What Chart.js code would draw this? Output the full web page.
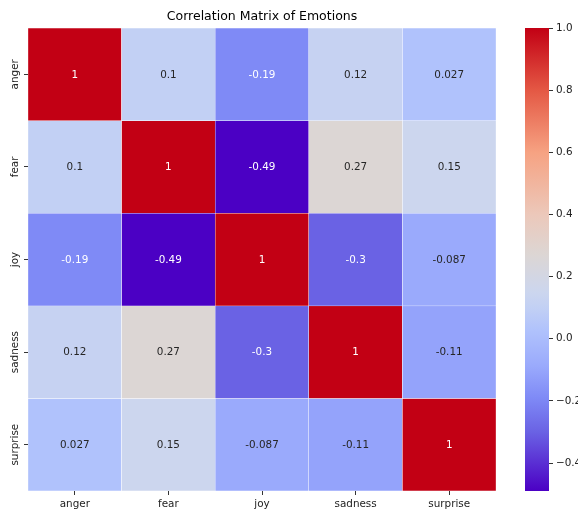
<!DOCTYPE html>
<html>
<head>
<meta charset="utf-8">
<script src="https://cdn.jsdelivr.net/npm/chart.js@4/dist/chart.umd.min.js"></script>
<style>
  body { margin: 0; background: #fff; }
  #wrap { position: relative; width: 578px; height: 511px; overflow: hidden; }
  canvas { position: absolute; top: 0; }
</style>
</head>
<body>
<div id="wrap">
  <canvas id="heat" width="578" height="511" style="left:0"></canvas>
  <canvas id="cbar" width="78" height="511" style="left:500px"></canvas>
</div>
<script>
// categories and correlation rows
var emotions = ['anger', 'fear', 'joy', 'sadness', 'surprise'];
var angerCorr = [1, 0.1, -0.19, 0.12, 0.027];
var fearCorr = [0.1, 1, -0.49, 0.27, 0.15];
var joyCorr = [-0.19, -0.49, 1, -0.3, -0.087];
var sadnessCorr = [0.12, 0.27, -0.3, 1, -0.11];
var surpriseCorr = [0.027, 0.15, -0.087, -0.11, 1];
var colorbarTicks = [-0.4, -0.2, 0, 0.2, 0.4, 0.6, 0.8, 1.0];

var rows = [angerCorr, fearCorr, joyCorr, sadnessCorr, surpriseCorr];
var allVals = [].concat.apply([], rows);
var vmin = Math.min.apply(null, allVals);
var vmax = Math.max.apply(null, allVals);

var FONT = 'DejaVu Sans';

// colour ramp as seen in the picture (value -> rgb)
var cmapStops = [
    [-0.49, [75, 0, 196]],
    [-0.3, [106, 98, 228]],
    [-0.19, [127, 138, 246]],
    [-0.087, [154, 170, 252]],
    [0.027, [176, 194, 252]],
    [0.1, [194, 208, 244]],
    [0.15, [204, 214, 238]],
    [0.27, [220, 214, 212]],
    [0.4, [236, 200, 186]],
    [0.6, [246, 162, 130]],
    [0.8, [228, 88, 68]],
    [1.0, [194, 0, 20]]
];

function cmap(v) {
    if (v <= cmapStops[0][0]) {
        return 'rgb(' + cmapStops[0][1].join(',') + ')';
    }
    for (var i = 1; i < cmapStops.length; i++) {
        var a = cmapStops[i - 1], b = cmapStops[i];
        if (v <= b[0]) {
            var t = (v - a[0]) / (b[0] - a[0]);
            var c = a[1].map(function (x, k) { return Math.round(x + (b[1][k] - x) * t); });
            return 'rgb(' + c.join(',') + ')';
        }
    }
    return 'rgb(' + cmapStops[cmapStops.length - 1][1].join(',') + ')';
}

function textColor(v) {
    return (v <= -0.15 || v >= 0.75) ? '#ffffff' : '#262626';
}

var cellLabels = {
    id: 'cellLabels',
    afterDatasetsDraw: function (chart) {
        var ctx = chart.ctx;
        ctx.save();
        ctx.font = '10.4px "' + FONT + '"';
        ctx.textAlign = 'center';
        ctx.textBaseline = 'middle';
        chart.data.datasets.forEach(function (ds, di) {
            chart.getDatasetMeta(di).data.forEach(function (bar, j) {
                var v = ds.corr[j];
                ctx.fillStyle = textColor(v);
                ctx.fillText(String(v), bar.x, (bar.y + bar.base) / 2 + 0.5);
            });
        });
        ctx.restore();
    },
    afterDraw: function (chart) {
        // rotated row names on the left
        var ctx = chart.ctx;
        var ys = chart.scales.y;
        ctx.save();
        ctx.font = '10.4px "' + FONT + '"';
        ctx.fillStyle = '#222';
        ctx.textAlign = 'center';
        ctx.textBaseline = 'alphabetic';
        emotions.forEach(function (name, i) {
            ctx.save();
            ctx.translate(17.5, ys.getPixelForValue(i + 0.5));
            ctx.rotate(-Math.PI / 2);
            ctx.fillText(name, 0, 0);
            ctx.restore();
        });
        ctx.restore();
    }
};

new Chart(document.getElementById('heat'), {
    type: 'bar',
    data: {
        labels: emotions,
        datasets: rows.map(function (row, r) {
            return {
                label: emotions[r],
                data: row.map(function () { return 1; }),
                corr: row,
                backgroundColor: row.map(cmap),
                borderColor: '#ffffff',
                borderWidth: 0.5,
                borderSkipped: false,
                barPercentage: 1,
                categoryPercentage: 1
            };
        })
    },
    options: {
        responsive: false,
        animation: false,
        layout: { padding: { left: 0, right: 82, top: 0, bottom: 0 } },
        plugins: {
            legend: { display: false },
            tooltip: { enabled: false },
            title: {
                display: true,
                text: 'Correlation Matrix of Emotions',
                fullSize: false,
                color: '#000',
                font: { family: FONT, size: 12.5, weight: 'normal' },
                padding: { top: 9, bottom: 4 }
            }
        },
        scales: {
            x: {
                stacked: true,
                border: { display: false },
                grid: { offset: false, drawOnChartArea: false, tickLength: 4, color: '#000', lineWidth: 0.8 },
                ticks: { color: '#222', font: { family: FONT, size: 10.4 }, padding: 3, maxRotation: 0 },
                afterFit: function (s) { s.height = 20; }
            },
            y: {
                stacked: true,
                reverse: true,
                min: 0,
                max: 5,
                border: { display: false },
                afterBuildTicks: function (s) {
                    s.ticks = emotions.map(function (e, i) { return { value: i + 0.5 }; });
                },
                ticks: { display: false },
                grid: { drawOnChartArea: false, tickLength: 4, color: '#000', lineWidth: 0.8 },
                afterFit: function (s) { s.width = 28; }
            }
        }
    },
    plugins: [cellLabels]
});

// colour bar
new Chart(document.getElementById('cbar'), {
    type: 'bar',
    data: {
        labels: [''],
        datasets: [{
            data: [[vmin, vmax]],
            borderWidth: 0,
            barPercentage: 1,
            categoryPercentage: 1,
            backgroundColor: function (c) {
                var chart = c.chart;
                var ys = chart.scales.y;
                if (!chart.chartArea || !ys) {
                    return null;
                }
                var y0 = ys.getPixelForValue(vmin), y1 = ys.getPixelForValue(vmax);
                var g = chart.ctx.createLinearGradient(0, y0, 0, y1);
                cmapStops.forEach(function (s) {
                    var t = (s[0] - vmin) / (vmax - vmin);
                    g.addColorStop(Math.min(1, Math.max(0, t)), 'rgb(' + s[1].join(',') + ')');
                });
                return g;
            }
        }]
    },
    options: {
        responsive: false,
        animation: false,
        layout: { padding: { left: 25, right: 0, top: 28, bottom: 20 } },
        plugins: { legend: { display: false }, tooltip: { enabled: false } },
        scales: {
            x: { display: false },
            y: {
                position: 'right',
                min: vmin,
                max: vmax,
                border: { display: false },
                afterBuildTicks: function (s) {
                    s.ticks = colorbarTicks.map(function (v) { return { value: v }; });
                },
                ticks: {
                    color: '#222',
                    font: { family: FONT, size: 10.4 },
                    padding: 3,
                    callback: function (v) {
                        return (v < 0 ? '\u2212' : '') + Math.abs(v).toFixed(1);
                    }
                },
                grid: { drawOnChartArea: false, tickLength: 4, color: '#000', lineWidth: 0.8 },
                afterFit: function (s) { s.width = 29; }
            }
        }
    }
});
</script>
</body>
</html>
